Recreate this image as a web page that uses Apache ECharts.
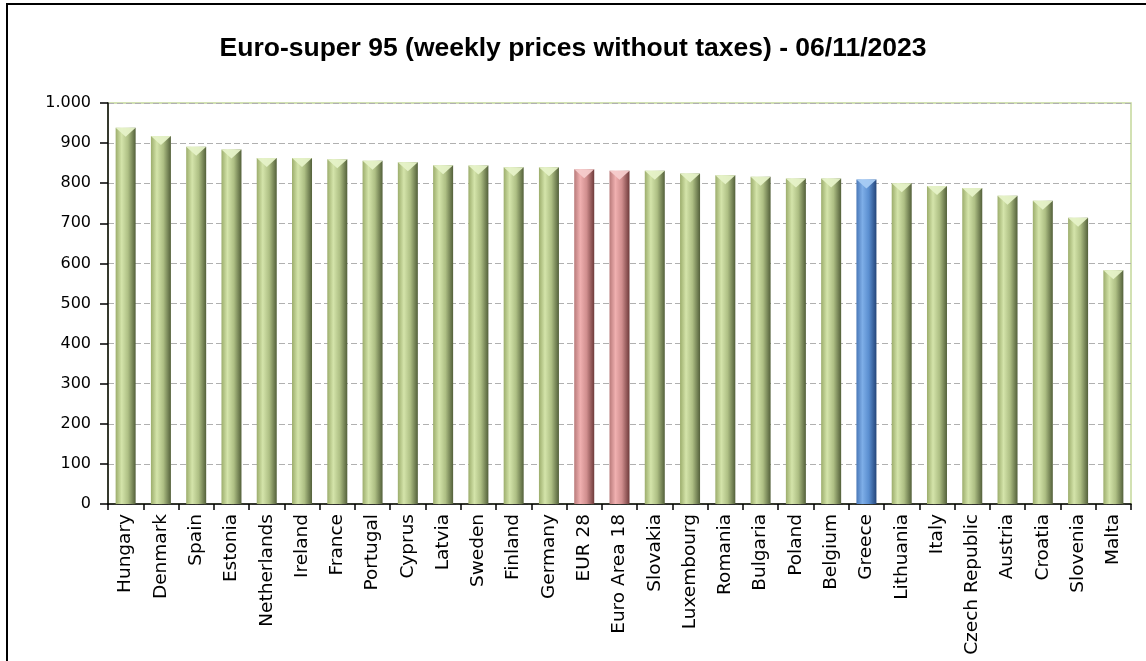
<!DOCTYPE html>
<html>
<head>
<meta charset="utf-8">
<script src="https://cdn.jsdelivr.net/npm/echarts@6/dist/echarts.min.js"></script>
<style>
html,body{margin:0;padding:0;background:#fff;}
#chart{width:1146px;height:661px;}
</style>
</head>
<body>
<div id="chart"></div>
<script>
const categories = ['Hungary','Denmark','Spain','Estonia','Netherlands','Ireland','France','Portugal','Cyprus','Latvia','Sweden','Finland','Germany','EUR 28','Euro Area 18','Slovakia','Luxembourg','Romania','Bulgaria','Poland','Belgium','Greece','Lithuania','Italy','Czech Republic','Austria','Croatia','Slovenia','Malta'];
const prices = [938,918,891,884,863,863,860,856,852,845,844,840,840,835,831,831,824,820,816,812,812,809,800,793,788,769,756,714,583];
const euAggregates = ['EUR 28','Euro Area 18'];
const highlighted = ['Greece'];
const yTicks = [0,100,200,300,400,500,600,700,800,900,1000];

function grad(edge, light, mid, dark){
  return new echarts.graphic.LinearGradient(0,0,1,0,[
    {offset:0,color:edge},{offset:0.3,color:light},{offset:0.62,color:mid},{offset:1,color:dark}
  ]);
}
const green = grad('#9cad6c','#d4e4aa','#aebf84','#53603a');
const red = grad('#b87a7a','#f0b0b0','#d08e8e','#6e3a3a');
const blue = grad('#4a78b8','#7eaee8','#5a8ed0','#24457a');
const capGreen = '#e6f2c8', capRed = '#f6cccc', capBlue = '#a8ccf4';

function kind(c){ return euAggregates.includes(c) ? 'r' : (highlighted.includes(c) ? 'b' : 'g'); }

const barData = prices.map((v,i)=>{
  const k = kind(categories[i]);
  return {value:v, itemStyle:{color: k==='r'?red:(k==='b'?blue:green)}};
});
const capData = prices.map((v,i)=>{
  const k = kind(categories[i]);
  return {value:v, itemStyle:{color: k==='r'?capRed:(k==='b'?capBlue:capGreen)}};
});

const chart = echarts.init(document.getElementById('chart'));
chart.setOption({
  animation:false,
  backgroundColor:'#fff',
  title:{
    text:'Euro-super 95 (weekly prices without taxes) - 06/11/2023',
    left:'center', top:30,
    textStyle:{fontFamily:'Liberation Sans, sans-serif',fontWeight:'bold',fontSize:26.5,color:'#000'}
  },
  graphic:[{type:'rect',shape:{x:7,y:4,width:1300,height:800},style:{fill:'none',stroke:'#000',lineWidth:2},silent:true,z:-1}],
  grid:{left:108,right:15,top:103,bottom:157,show:true,borderColor:'#c4d79b',borderWidth:1.5},
  xAxis:{
    type:'category', data:categories,
    axisLine:{lineStyle:{color:'#000',width:1.5}},
    axisTick:{show:true,length:6,lineStyle:{color:'#000',width:1.5}},
    axisLabel:{rotate:90,interval:0,margin:10,fontFamily:'DejaVu Sans',fontSize:18.5,color:'#000'}
  },
  yAxis:{
    type:'value', min:yTicks[0], max:yTicks[yTicks.length-1], interval:100,
    axisLine:{show:true,lineStyle:{color:'#000',width:1.5}},
    axisTick:{show:true,length:8,lineStyle:{color:'#000',width:1.5}},
    axisLabel:{margin:17,fontFamily:'DejaVu Sans',fontSize:16,color:'#000',
      formatter:v=>String(v).replace(/\B(?=(\d{3})+(?!\d))/g,'.')},
    splitLine:{show:true,lineStyle:{color:'#b0b0b0',type:[6,3],width:1}}
  },
  series:[
    {type:'bar',data:barData,barWidth:20,z:2},
    {type:'pictorialBar',data:capData,symbol:'path://M0,0 L10,0 L5,5 Z',symbolSize:[20,9],
     symbolPosition:'end',barGap:'-100%',z:3,itemStyle:{opacity:0.95}}
  ]
});
</script>
</body>
</html>
